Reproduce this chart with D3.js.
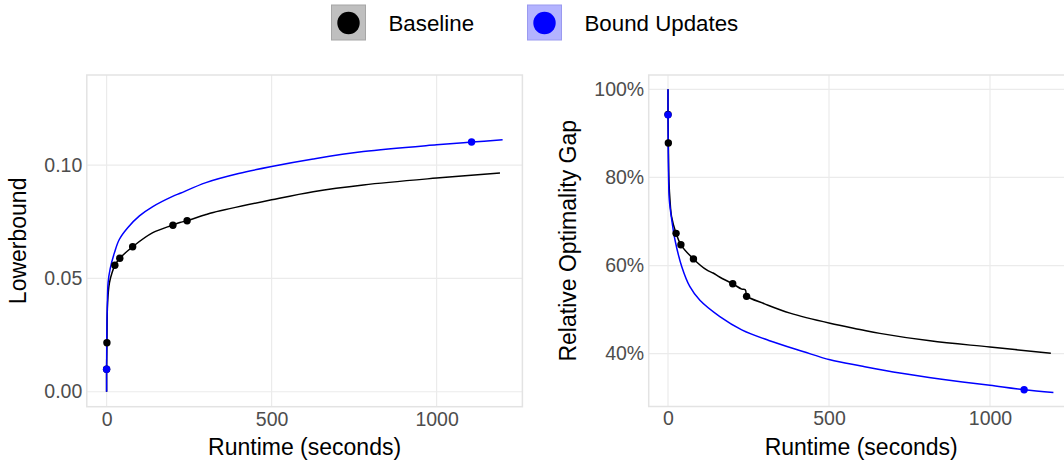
<!DOCTYPE html>
<html>
<head>
<meta charset="utf-8">
<script src="https://cdn.jsdelivr.net/npm/d3@7"></script>
<style>
  body { margin: 0; background: #fff; }
  svg { font-family: "Liberation Sans", Arial, sans-serif; display: block; }
</style>
</head>
<body>
<svg id="chart"></svg>
<script>
const width = 1064, height = 460;

// Series names and colours
const seriesNames = ["Baseline", "Bound Updates"];
const seriesColors = ["#000000", "#0000ff"];

// Lowerbound curves (runtime in seconds, lowerbound value)
const lbBaselineX = [0, 0, 1, 3, 8.6, 16.7, 25, 40, 79, 140, 199, 222, 244, 301, 323, 500, 626, 778, 1000, 1192];
const lbBaselineY = [0, 0.0099, 0.0216, 0.0393, 0.0481, 0.0526, 0.0558, 0.0589, 0.064, 0.0702, 0.0735, 0.0747, 0.0755, 0.0782, 0.0791, 0.0847, 0.0883, 0.0913, 0.0943, 0.0965];
const lbBoundX = [0, 0, 1, 2, 4.5, 10.6, 23.8, 38.8, 64, 99.5, 140, 200, 223, 301, 400, 500, 626, 778, 1000, 1107, 1200];
const lbBoundY = [0, 0.0099, 0.03, 0.0364, 0.0481, 0.0541, 0.0614, 0.0673, 0.0724, 0.0776, 0.0817, 0.0862, 0.0876, 0.0923, 0.0963, 0.0994, 0.1027, 0.106, 0.109, 0.1102, 0.1112];

// Relative optimality gap curves (runtime in seconds, gap)
const gapBaselineX = [0, 0, 1, 3, 6, 11, 25, 40, 79, 120, 140, 160, 201, 229, 240, 243, 244, 300, 379, 503, 596, 658, 814, 1000, 1189];
const gapBaselineY = [1.0, 0.943, 0.878, 0.79, 0.75, 0.711, 0.673, 0.647, 0.615, 0.590, 0.583, 0.574, 0.5585, 0.5465, 0.545, 0.532, 0.530, 0.513, 0.492, 0.469, 0.455, 0.446, 0.429, 0.415, 0.401];
const gapBoundX = [0, 0, 1, 2, 4, 11.5, 21.7, 42.5, 68, 99, 161, 229, 313, 419, 503, 600, 720, 850, 1000, 1105, 1197];
const gapBoundY = [1.0, 0.942, 0.84, 0.79, 0.749, 0.704, 0.658, 0.598, 0.552, 0.521, 0.484, 0.454, 0.430, 0.405, 0.386, 0.372, 0.356, 0.342, 0.328, 0.318, 0.312];

// Marked points (solution updates)
const lbBaselinePtsX = [0, 1, 25, 40, 79, 201, 244];
const lbBaselinePtsY = [0.0099, 0.0216, 0.0558, 0.0589, 0.064, 0.0735, 0.0755];
const lbBoundPtsX = [0, 1106];
const lbBoundPtsY = [0.0099, 0.1102];
const gapBaselinePtsX = [0, 1, 25, 40, 79, 201, 244];
const gapBaselinePtsY = [0.943, 0.878, 0.673, 0.647, 0.615, 0.5585, 0.530];
const gapBoundPtsX = [0, 1106];
const gapBoundPtsY = [0.942, 0.318];

// Tick values
const xTicks = [0, 500, 1000];
const lbTicks = [0, 0.05, 0.10];
const gapTicks = [0.4, 0.6, 0.8, 1.0];

const zip = (xs, ys) => xs.map((x, i) => ({ x, y: ys[i] }));

const svg = d3.select("#chart")
  .attr("width", width)
  .attr("height", height);

function drawPanel(cfg) {
  const x = d3.scaleLinear().domain([-60, 1260]).range(cfg.xRange);
  const y = d3.scaleLinear().domain(cfg.yDomain).range(cfg.yRange);
  const g = svg.append("g");

  // clip to the panel
  const clipId = "clip-" + cfg.id;
  g.append("clipPath").attr("id", clipId)
    .append("rect")
    .attr("x", cfg.xRange[0]).attr("y", cfg.yRange[1])
    .attr("width", cfg.xRange[1] - cfg.xRange[0])
    .attr("height", cfg.yRange[0] - cfg.yRange[1]);

  // gridlines
  g.selectAll(".vgrid").data(xTicks).enter().append("line")
    .attr("x1", d => x(d)).attr("x2", d => x(d))
    .attr("y1", cfg.yRange[1]).attr("y2", cfg.yRange[0])
    .attr("stroke", "#ebebeb").attr("stroke-width", 1.2);
  g.selectAll(".hgrid").data(cfg.yTicks).enter().append("line")
    .attr("x1", cfg.xRange[0]).attr("x2", cfg.xRange[1])
    .attr("y1", d => y(d)).attr("y2", d => y(d))
    .attr("stroke", "#ebebeb").attr("stroke-width", 1.2);

  // panel border
  g.append("rect")
    .attr("x", cfg.xRange[0]).attr("y", cfg.yRange[1])
    .attr("width", cfg.xRange[1] - cfg.xRange[0])
    .attr("height", cfg.yRange[0] - cfg.yRange[1])
    .attr("fill", "none").attr("stroke", "#e3e3e3").attr("stroke-width", 1.5);

  const line = d3.line()
    .x(d => x(d.x)).y(d => y(d.y))
    .curve(d3.curveCatmullRom.alpha(0.5));
  const plot = g.append("g").attr("clip-path", `url(#${clipId})`);

  cfg.lines.forEach((pts, i) => {
    plot.append("path").datum(pts)
      .attr("d", line)
      .attr("fill", "none")
      .attr("stroke", seriesColors[i])
      .attr("stroke-width", 1.5)
      .attr("stroke-linejoin", "round");
  });
  cfg.points.forEach((pts, i) => {
    plot.selectAll(".pt" + i).data(pts).enter().append("circle")
      .attr("cx", d => x(d.x)).attr("cy", d => y(d.y))
      .attr("r", 3.7)
      .attr("fill", seriesColors[i]);
  });

  // axes (labels only)
  const xAxis = g.append("g")
    .attr("transform", `translate(0,${cfg.yRange[0]})`)
    .call(d3.axisBottom(x).tickValues(xTicks).tickSize(0).tickPadding(5).tickFormat(d3.format("d")));
  const yAxis = g.append("g")
    .attr("transform", `translate(${cfg.xRange[0]},0)`)
    .call(d3.axisLeft(y).tickValues(cfg.yTicks).tickSize(0).tickPadding(4.5).tickFormat(cfg.yFormat));
  [xAxis, yAxis].forEach(a => {
    a.select(".domain").remove();
    a.selectAll("text")
      .attr("fill", "#4d4d4d")
      .style("font-size", "19.5px")
      .style("font-family", "'Liberation Sans', Arial, sans-serif");
  });

  // titles
  g.append("text")
    .attr("x", (cfg.xRange[0] + cfg.xRange[1]) / 2)
    .attr("y", 455)
    .attr("text-anchor", "middle")
    .style("font-size", "23px")
    .attr("fill", "#000")
    .text("Runtime (seconds)");
  g.append("text")
    .attr("transform", `translate(${cfg.yTitleX},${(cfg.yRange[0] + cfg.yRange[1]) / 2}) rotate(-90)`)
    .attr("text-anchor", "middle")
    .style("font-size", "23px")
    .attr("fill", "#000")
    .text(cfg.yTitle);
}

drawPanel({
  id: "lb",
  xRange: [86.8, 522.4],
  yDomain: [-0.0066, 0.1398],
  yRange: [406.7, 75],
  yTicks: lbTicks,
  yFormat: d3.format(".2f"),
  yTitle: "Lowerbound",
  yTitleX: 26,
  lines: [zip(lbBaselineX, lbBaselineY), zip(lbBoundX, lbBoundY)],
  points: [zip(lbBaselinePtsX, lbBaselinePtsY), zip(lbBoundPtsX, lbBoundPtsY)]
});

drawPanel({
  id: "gap",
  xRange: [648.7, 1073.7],
  yDomain: [0.28, 1.0325],
  yRange: [406.5, 75],
  yTicks: gapTicks,
  yFormat: d3.format(".0%"),
  yTitle: "Relative Optimality Gap",
  yTitleX: 576,
  lines: [zip(gapBaselineX, gapBaselineY), zip(gapBoundX, gapBoundY)],
  points: [zip(gapBaselinePtsX, gapBaselinePtsY), zip(gapBoundPtsX, gapBoundPtsY)]
});

// legend
const legendX = [331.5, 527.5];
const keyFill = ["#bfbfbf", "#b3b3ff"];
const keyStroke = ["#a6a6a6", "#9a9aef"];
const legend = svg.append("g");
seriesNames.forEach((name, i) => {
  const k = legend.append("g").attr("transform", `translate(${legendX[i]},5)`);
  k.append("rect").attr("x", 0).attr("y", 0).attr("width", 34).attr("height", 35)
    .attr("fill", keyFill[i]).attr("stroke", keyStroke[i]).attr("stroke-width", 1);
  k.append("circle").attr("cx", 17).attr("cy", 18).attr("r", 11.2).attr("fill", seriesColors[i]);
  k.append("text").attr("x", 57).attr("y", 25.5)
    .style("font-size", "22.3px").attr("fill", "#000").text(name);
});
</script>
</body>
</html>
